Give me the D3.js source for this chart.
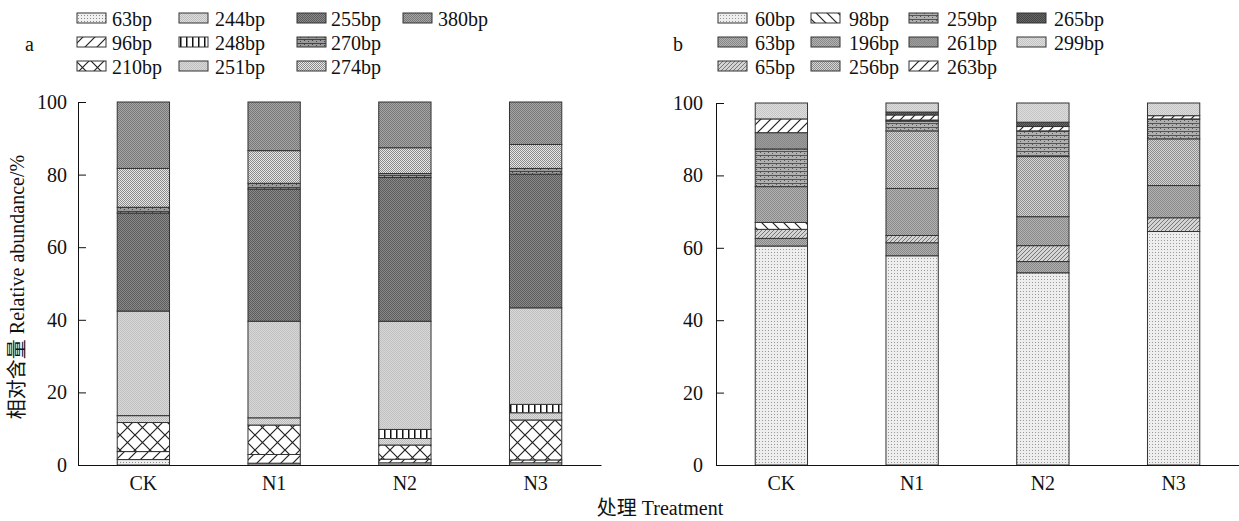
<!DOCTYPE html>
<html>
<head>
<meta charset="utf-8">
<script src="https://cdn.jsdelivr.net/npm/d3@7"></script>
<style>
  body { margin: 0; background: #fff; }
  text { font-family: "Liberation Serif", "Times New Roman", "Noto Sans CJK SC", serif; fill: #111; }
</style>
</head>
<body>
<div id="chart"></div>
<script>
// data
var treatments = ["CK", "N1", "N2", "N3"];
var yTicks = [0, 20, 40, 60, 80, 100];

// panel a fragments, bottom to top
var fragA = ["63bp", "96bp", "210bp", "244bp", "248bp", "251bp", "255bp", "270bp", "274bp", "380bp"];
var a63  = [1.5, 0.5, 0.6, 0.6];
var a96  = [2.2, 2.4, 1.0, 0.8];
var a210 = [8.0, 8.1, 3.9, 11.0];
var a244 = [1.9, 2.0, 1.8, 2.0];
var a248 = [0.0, 0.0, 2.5, 2.3];
var a251 = [28.8, 26.6, 29.8, 26.6];
var a255 = [27.0, 36.4, 39.6, 36.8];
var a270 = [1.6, 1.6, 1.1, 1.6];
var a274 = [10.7, 9.0, 7.1, 6.6];
var a380 = [18.3, 13.4, 12.6, 11.7];

// panel b fragments, bottom to top
var fragB = ["60bp", "63bp", "65bp", "98bp", "196bp", "256bp", "259bp", "261bp", "263bp", "265bp", "299bp"];
var b60  = [60.5, 57.8, 53.1, 64.5];
var b63  = [2.1, 3.6, 3.1, 0.0];
var b65  = [2.5, 2.0, 4.4, 3.8];
var b98  = [1.9, 0.0, 0.0, 0.0];
var b196 = [9.9, 13.0, 8.0, 8.9];
var b256 = [0.0, 15.9, 16.6, 12.9];
var b259 = [10.4, 2.7, 7.1, 5.5];
var b261 = [4.5, 0.3, 0.0, 0.0];
var b263 = [3.8, 1.4, 1.2, 0.9];
var b265 = [0.0, 0.8, 1.2, 0.0];
var b299 = [4.4, 2.5, 5.3, 3.5];

var valuesA = [a63, a96, a210, a244, a248, a251, a255, a270, a274, a380];
var valuesB = [b60, b63, b65, b98, b196, b256, b259, b261, b263, b265, b299];

// fill patterns
var pattA = [
  {type: "dots", bg: "#f0f0f0", fg: "#8a8a8a"},
  {type: "fwd", bg: "#fff", fg: "#222", s: 12, w: 1.2},
  {type: "cross", bg: "#fff", fg: "#222", s: 15},
  {type: "check", bg: "#dedede", fg: "#bcbcbc"},
  {type: "vert", bg: "#fff", fg: "#111", s: 6},
  {type: "check", bg: "#d8d8d8", fg: "#c0c0c0"},
  {type: "check", bg: "#8a8a8a", fg: "#5c5c5c"},
  {type: "brick", bg: "#9a9a9a", fg: "#444"},
  {type: "check", bg: "#e8e8e8", fg: "#8a8a8a"},
  {type: "check", bg: "#a6a6a6", fg: "#777"}
];
var pattB = [
  {type: "dots", bg: "#eeeeee", fg: "#999"},
  {type: "check", bg: "#b0b0b0", fg: "#888"},
  {type: "fwd", bg: "#d4d4d4", fg: "#777", s: 4, w: 1},
  {type: "back", bg: "#fff", fg: "#222", s: 11, w: 1.2},
  {type: "check", bg: "#b2b2b2", fg: "#8a8a8a"},
  {type: "check", bg: "#d6d6d6", fg: "#8c8c8c"},
  {type: "brick", bg: "#b0b0b0", fg: "#555"},
  {type: "check", bg: "#9c9c9c", fg: "#888"},
  {type: "fwd", bg: "#fff", fg: "#222", s: 10, w: 1.2},
  {type: "check", bg: "#666", fg: "#444"},
  {type: "check", bg: "#dedede", fg: "#c4c4c4"}
];

var W = 1239, H = 521;
var FS = "20px";
var svg = d3.select("#chart").append("svg").attr("width", W).attr("height", H);
var defs = svg.append("defs");

function makePattern(id, p) {
  var s = p.s || (p.type == "dots" ? 3 : (p.type == "brick" ? 8 : 2));
  var h = p.type == "brick" ? 4 : s;
  var pat = defs.append("pattern").attr("id", id)
    .attr("patternUnits", "userSpaceOnUse").attr("width", s).attr("height", h);
  pat.append("rect").attr("width", s).attr("height", h).attr("fill", p.bg);
  if (p.type == "dots") {
    pat.append("rect").attr("x", 0).attr("y", 0).attr("width", 1).attr("height", 1).attr("fill", p.fg);
  } else if (p.type == "check") {
    pat.append("rect").attr("x", 0).attr("y", 0).attr("width", 1).attr("height", 1).attr("fill", p.fg);
    pat.append("rect").attr("x", 1).attr("y", 1).attr("width", 1).attr("height", 1).attr("fill", p.fg);
  } else if (p.type == "fwd") {
    pat.append("path").attr("d", "M0," + s + "L" + s + ",0M-1,1L1,-1M" + (s - 1) + "," + (s + 1) + "L" + (s + 1) + "," + (s - 1))
      .attr("stroke", p.fg).attr("stroke-width", p.w);
  } else if (p.type == "back") {
    pat.append("path").attr("d", "M0,0L" + s + "," + s + "M-1," + (s - 1) + "L1," + (s + 1) + "M" + (s - 1) + ",-1L" + (s + 1) + ",1")
      .attr("stroke", p.fg).attr("stroke-width", p.w);
  } else if (p.type == "cross") {
    pat.append("path").attr("d", "M0,0L" + s + "," + s + "M0," + s + "L" + s + ",0")
      .attr("stroke", p.fg).attr("stroke-width", 1.2);
  } else if (p.type == "vert") {
    pat.append("rect").attr("x", 0).attr("width", 1.5).attr("height", s).attr("fill", p.fg);
  } else if (p.type == "brick") {
    pat.append("rect").attr("x", 0).attr("y", 3).attr("width", 8).attr("height", 1).attr("fill", p.fg);
    pat.append("rect").attr("x", 0).attr("y", 0).attr("width", 1).attr("height", 1).attr("fill", p.fg);
    pat.append("rect").attr("x", 4).attr("y", 1).attr("width", 1).attr("height", 1).attr("fill", p.fg);
  }
}
pattA.forEach(function (p, i) { makePattern("pa" + i, p); });
pattB.forEach(function (p, i) { makePattern("pb" + i, p); });

// draw one panel
function drawPanel(cfg) {
  var x = d3.scaleBand().domain(treatments).range(cfg.xr).paddingInner(0.6).paddingOuter(0.3);
  var y = d3.scaleLinear().domain([0, 100]).range(cfg.yr);
  var g = svg.append("g");

  // stack rows
  var rows = treatments.map(function (t, j) {
    var r = {t: t};
    cfg.keys.forEach(function (k, i) { r[k] = cfg.vals[i][j]; });
    return r;
  });
  var series = d3.stack().keys(cfg.keys)(rows);

  series.forEach(function (s, i) {
    g.selectAll(null).data(s).enter().append("rect")
      .attr("x", function (d) { return x(d.data.t); })
      .attr("y", function (d) { return y(d[1]); })
      .attr("width", x.bandwidth())
      .attr("height", function (d) { return Math.max(0, y(d[0]) - y(d[1])); })
      .attr("fill", "url(#" + cfg.pid + i + ")")
      .attr("stroke", "#333").attr("stroke-width", 1);
  });

  // axes
  var ya = g.append("g").attr("transform", "translate(" + cfg.xr[0] + ",0)")
    .call(d3.axisLeft(y).tickValues(yTicks).tickSizeInner(-8).tickSizeOuter(0).tickPadding(cfg.tp));
  ya.selectAll("text").style("font-size", FS).attr("fill", "#111");
  ya.select(".domain").attr("stroke", "#111");
  ya.selectAll(".tick line").attr("stroke", "#111");

  var xa = g.append("g").attr("transform", "translate(0," + cfg.yr[0] + ")")
    .call(d3.axisBottom(x).tickSize(0).tickPadding(11));
  xa.selectAll("text").style("font-size", FS).attr("fill", "#111");
  xa.select(".domain").attr("stroke", "#111");

  // panel letter
  svg.append("text").attr("x", cfg.lx).attr("y", 51).style("font-size", FS).text(cfg.letter);

  // legend
  cfg.keys.forEach(function (k, i) {
    var col = Math.floor(i / 3), row = i % 3;
    var lx = cfg.legX[col], ly = 13 + row * 24;
    svg.append("rect").attr("x", lx).attr("y", ly).attr("width", 29).attr("height", 10)
      .attr("fill", "url(#" + cfg.pid + i + ")").attr("stroke", "#333");
    svg.append("text").attr("x", lx + cfg.tOff[col]).attr("y", ly + 13)
      .style("font-size", FS).text(k);
  });
}

drawPanel({keys: fragA, vals: valuesA, pid: "pa", xr: [78, 601], yr: [465, 102], tp: 11,
  letter: "a", lx: 25, legX: [77, 179, 297, 403], tOff: [35, 36, 34, 35]});
drawPanel({keys: fragB, vals: valuesB, pid: "pb", xr: [716, 1239], yr: [465, 103], tp: 13,
  letter: "b", lx: 673, legX: [718, 811, 909, 1017], tOff: [37, 38, 38, 37]});

// axis titles
svg.append("text").attr("transform", "translate(24,287) rotate(-90)")
  .attr("text-anchor", "middle").style("font-size", FS)
  .text("相对含量 Relative abundance/%");
svg.append("text").attr("x", 660).attr("y", 515)
  .attr("text-anchor", "middle").style("font-size", FS)
  .text("处理 Treatment");
</script>
</body>
</html>
